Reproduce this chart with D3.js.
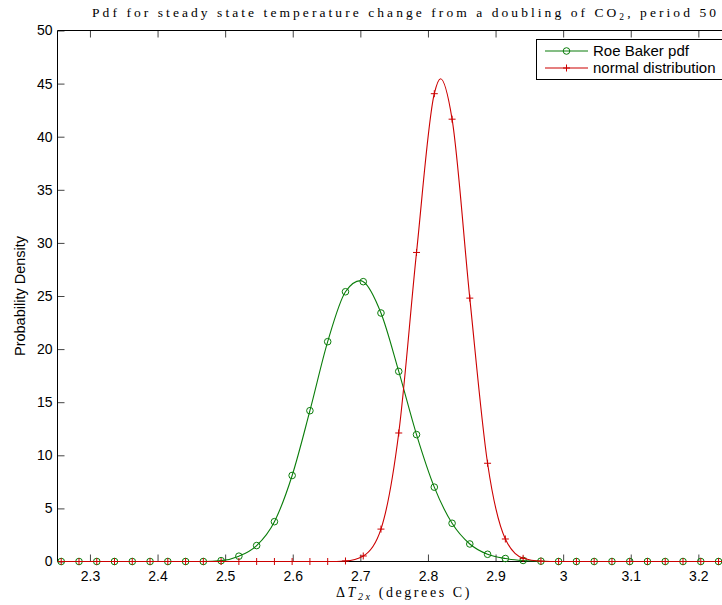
<!DOCTYPE html>
<html><head><meta charset="utf-8">
<script src="https://cdn.jsdelivr.net/npm/d3@7"></script>
<style>body{margin:0;background:#fff}svg{display:block}</style>
</head><body><svg id="c" width="722" height="605"></svg>
<script>
// ---- data ----
const xValues = [2.2575,2.2838,2.3101,2.3363,2.3626,2.3889,2.4152,2.4415,2.4677,2.4940,
  2.5203,2.5466,2.5729,2.5991,2.6254,2.6517,2.6780,2.7043,2.7305,2.7568,
  2.7831,2.8094,2.8357,2.8619,2.8882,2.9145,2.9408,2.9671,2.9933,3.0196,
  3.0459,3.0722,3.0985,3.1247,3.1510,3.1773,3.2036,3.2299];
const roeBaker = [0,0,0,0,0,0,0,0,0,0.08,
  0.5,1.5,3.75,8.1,14.2,20.7,25.4,26.35,23.4,17.9,
  11.95,7.0,3.6,1.65,0.68,0.28,0.1,0.03,0,0,
  0,0,0,0,0,0,0,0];
const normalDist = [0,0,0,0,0,0,0,0,0,0,
  0,0,0,0,0,0,0.05,0.52,3.05,12.1,
  29.1,44.05,41.65,24.8,9.25,2.12,0.3,0.03,0,0,
  0,0,0,0,0,0,0,0];
// curve tops read between markers (line only)
const roeBakerTop = [{x:2.7002, y:26.45}];
const normalTop = [{x:2.8186, y:45.45}];
const xTicks = [2.3,2.4,2.5,2.6,2.7,2.8,2.9,3.0,3.1,3.2];
const xTickLabels = ["2.3","2.4","2.5","2.6","2.7","2.8","2.9","3","3.1","3.2"];
const yTicks = [0,5,10,15,20,25,30,35,40,45,50];
const seriesNames = ["Roe Baker pdf","normal distribution"];

// ---- drawing ----
const svg = d3.select("#c");
const L = 57.5, R = 733.5, T = 30.5, B = 561.5;
const x = d3.scaleLinear().domain([2.252, 3.252]).range([L, R]);
const y = d3.scaleLinear().domain([0, 50]).range([B, T]);
const green = "#0a7d0a", red = "#cc0000";
const sans = "'Liberation Sans', Arial, Helvetica, sans-serif";
const serif = "'Liberation Serif', 'DejaVu Serif', serif";

// axes
const gx = svg.append("g").attr("transform", `translate(0,${B})`)
  .call(d3.axisBottom(x).tickValues(xTicks).tickFormat((d,i)=>xTickLabels[i]).tickSizeInner(-7).tickSizeOuter(0).tickPadding(10));
const gxt = svg.append("g").attr("transform", `translate(0,${T})`)
  .call(d3.axisTop(x).tickValues(xTicks).tickFormat("").tickSizeInner(-7).tickSizeOuter(0));
const gy = svg.append("g").attr("transform", `translate(${L},0)`)
  .call(d3.axisLeft(y).tickValues(yTicks).tickFormat(d3.format("d")).tickSizeInner(-7).tickSizeOuter(0).tickPadding(5));
[gx,gxt,gy].forEach(g=>{
  g.select(".domain").remove();
  g.selectAll(".tick line").attr("stroke","#444").attr("stroke-width",1);
  g.selectAll(".tick text").attr("font-family",sans).attr("font-size",14).attr("fill","#000");
});
// frame
svg.append("path").attr("d",`M${L},${B}H${R}M${L},${T}H${R}M${L},${T}V${B}M${R},${T}V${B}`)
  .attr("stroke","#000").attr("stroke-width",1).attr("fill","none");

// lines
const line = d3.line().x(d=>x(d.x)).y(d=>y(d.y)).curve(d3.curveMonotoneX);
function lineData(vals, extra){
  return xValues.map((v,i)=>({x:v,y:vals[i]})).concat(extra).sort((a,b)=>a.x-b.x);
}
const gData = svg.append("g");
gData.append("path").attr("d", line(lineData(roeBaker, roeBakerTop)))
  .attr("fill","none").attr("stroke",green).attr("stroke-width",1.1);
gData.selectAll("circle.rb").data(xValues.map((v,i)=>({x:v,y:roeBaker[i]}))).join("circle")
  .attr("class","rb").attr("cx",d=>x(d.x)).attr("cy",d=>y(d.y)).attr("r",3.3)
  .attr("fill","none").attr("stroke",green).attr("stroke-width",1);
gData.append("path").attr("d", line(lineData(normalDist, normalTop)))
  .attr("fill","none").attr("stroke",red).attr("stroke-width",1.1);
const plus = (cx,cy,s)=>`M${cx-s},${cy}H${cx+s}M${cx},${cy-s}V${cy+s}`;
gData.selectAll("path.nd").data(xValues.map((v,i)=>({x:v,y:normalDist[i]}))).join("path")
  .attr("class","nd").attr("d",d=>plus(x(d.x),y(d.y),3.5))
  .attr("stroke",red).attr("stroke-width",1).attr("fill","none");

// legend
const lg = svg.append("g");
lg.append("rect").attr("x",536.5).attr("y",39.5).attr("width",220).attr("height",40)
  .attr("fill","#fff").attr("stroke","#000").attr("stroke-width",1);
const rows = [{y:51, c:green, m:"o"},{y:68, c:red, m:"+"}];
rows.forEach((r,i)=>{
  lg.append("line").attr("x1",545).attr("x2",588).attr("y1",r.y).attr("y2",r.y).attr("stroke",r.c).attr("stroke-width",1.1);
  if(r.m==="o") lg.append("circle").attr("cx",566.5).attr("cy",r.y).attr("r",3.3).attr("fill","none").attr("stroke",r.c);
  else lg.append("path").attr("d",plus(566.5,r.y,3.5)).attr("stroke",r.c);
  lg.append("text").attr("x",593).attr("y",r.y+5.3).attr("font-family",sans).attr("font-size",15).text(seriesNames[i]);
});

// y label
svg.append("text").attr("transform",`translate(25,${(T+B)/2}) rotate(-90)`).attr("text-anchor","middle")
  .attr("font-family",sans).attr("font-size",14.5).text("Probability Density");

// helper to spread letters to a target width
function fit(t, width){
  const n = t.text().length;
  const w = t.node().getComputedTextLength();
  t.attr("letter-spacing", ((width - w)/n).toFixed(3));
}
// title
const title = svg.append("text").attr("x",92).attr("y",17).attr("font-family",serif).attr("font-size",13.5);
title.append("tspan").text("Pdf for steady state temperature change from a doubling of CO");
title.append("tspan").attr("font-size",9.5).attr("dy",3).text("2");
title.append("tspan").attr("dy",-3).text(", period 50");
fit(title, 627);

// x label
const xl = svg.append("text").attr("x",336).attr("y",597).attr("font-family",serif).attr("font-size",14);
xl.append("tspan").text("\u0394");
xl.append("tspan").attr("font-style","italic").text("T");
xl.append("tspan").attr("font-style","italic").attr("font-size",10).attr("dy",3).text("2x");
xl.append("tspan").attr("dy",-3).text(" (degrees C)");
fit(xl, 136);
</script>
</body></html>
